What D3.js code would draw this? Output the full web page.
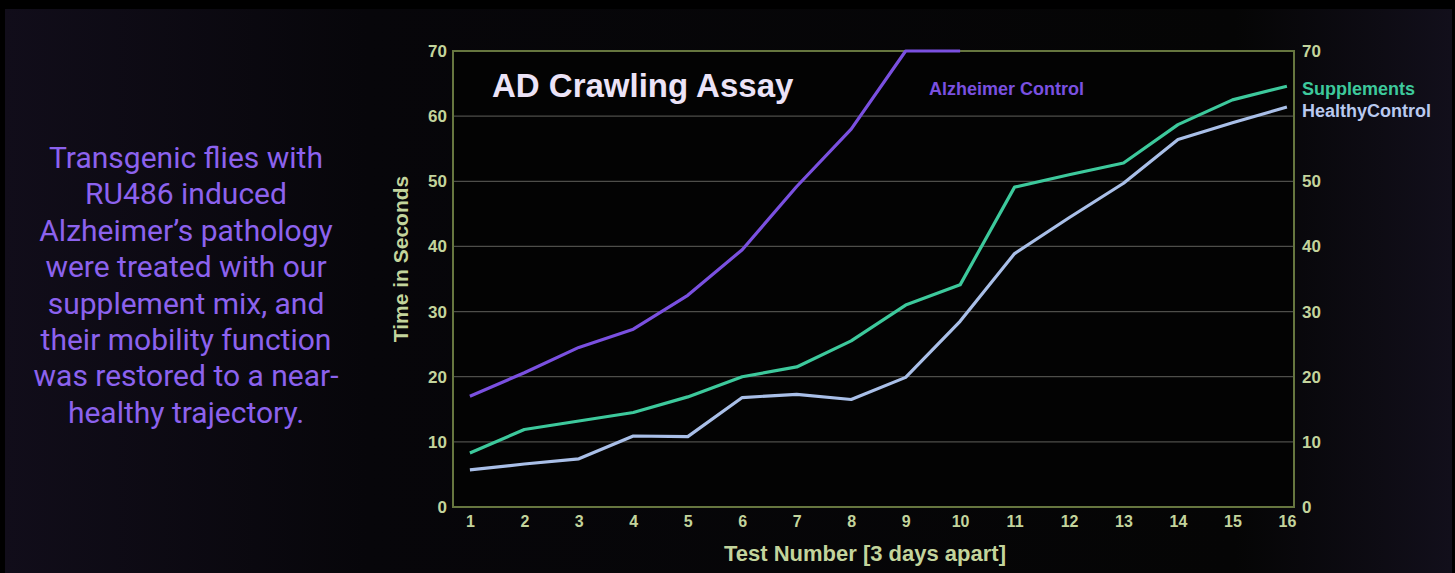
<!DOCTYPE html>
<html>
<head>
<meta charset="utf-8">
<script src="https://cdn.jsdelivr.net/npm/d3@7"></script>
<style>
  html, body { margin: 0; padding: 0; background: #000; }
  svg { display: block; }
</style>
</head>
<body>
<div id="canvas"></div>
<script>
"use strict";

// chart data
const tests = [1, 2, 3, 4, 5, 6, 7, 8, 9, 10, 11, 12, 13, 14, 15, 16];
const alzheimer = [17, 20.6, 24.5, 27.3, 32.5, 39.5, 49.2, 58, 70, 70];
const supplements = [8.3, 11.9, 13.2, 14.5, 16.9, 20, 21.5, 25.5, 31, 34.1, 49.1, 51, 52.8, 58.7, 62.5, 64.6];
const healthy = [5.7, 6.6, 7.4, 10.9, 10.8, 16.8, 17.3, 16.5, 19.9, 28.5, 38.9, 44.4, 49.7, 56.4, 59, 61.4];
const leftTicks = [0, 10, 20, 30, 40, 50, 60, 70];
const rightTicks = [0, 10, 20, 30, 40, 50, 70];
const noteLines = [
  "Transgenic flies with",
  "RU486 induced",
  "Alzheimer\u2019s pathology",
  "were treated with our",
  "supplement mix, and",
  "their mobility function",
  "was restored to a near-",
  "healthy trajectory."
];

const W = 1455, H = 573;
const plot = { left: 453, right: 1294, top: 51, bottom: 507 };
const axisColor = "#c3d49c";
const boldFont = "'Liberation Sans', Arial, sans-serif";

const svg = d3.select("#canvas").append("svg")
  .attr("width", W)
  .attr("height", H);

// slide background
const grad = svg.append("defs").append("linearGradient")
  .attr("id", "bg").attr("x1", 0).attr("x2", 1).attr("y1", 0).attr("y2", 0);
grad.append("stop").attr("offset", 0).attr("stop-color", "#110d1a");
grad.append("stop").attr("offset", 0.25).attr("stop-color", "#07060a");
grad.append("stop").attr("offset", 0.85).attr("stop-color", "#050505");
grad.append("stop").attr("offset", 1).attr("stop-color", "#120f1b");

svg.append("rect").attr("width", W).attr("height", H).attr("fill", "#000");
svg.append("rect")
  .attr("x", 5).attr("y", 9)
  .attr("width", W - 8).attr("height", H - 9)
  .attr("fill", "url(#bg)");

// scales
const x = d3.scaleLinear().domain([0.69, 16.13]).range([plot.left, plot.right]);
const y = d3.scaleLinear().domain([0, 70]).range([plot.bottom, plot.top]);

// plot area
svg.append("rect")
  .attr("x", plot.left).attr("y", plot.top)
  .attr("width", plot.right - plot.left)
  .attr("height", plot.bottom - plot.top)
  .attr("fill", "#030303");

// gridlines
svg.append("g")
  .selectAll("line")
  .data(leftTicks.filter(d => d > 0 && d < 70))
  .join("line")
  .attr("x1", plot.left).attr("x2", plot.right)
  .attr("y1", d => y(d)).attr("y2", d => y(d))
  .attr("stroke", "#4e4e4a")
  .attr("stroke-width", 1.2);

// border
svg.append("rect")
  .attr("x", plot.left).attr("y", plot.top)
  .attr("width", plot.right - plot.left)
  .attr("height", plot.bottom - plot.top)
  .attr("fill", "none")
  .attr("stroke", "#66763f")
  .attr("stroke-width", 2);

// axes
const leftAxis = svg.append("g")
  .attr("transform", "translate(" + plot.left + ",0)")
  .call(d3.axisLeft(y).tickValues(leftTicks).tickSize(0).tickPadding(6));

const rightAxis = svg.append("g")
  .attr("transform", "translate(" + plot.right + ",0)")
  .call(d3.axisRight(y).tickValues(rightTicks).tickSize(0).tickPadding(8));

const bottomAxis = svg.append("g")
  .attr("transform", "translate(0," + plot.bottom + ")")
  .call(d3.axisBottom(x).tickValues(tests).tickFormat(d3.format("d")).tickSize(0).tickPadding(9));

[leftAxis, rightAxis].forEach(g => {
  g.select(".domain").remove();
  g.selectAll("text")
    .attr("fill", axisColor)
    .style("font-family", boldFont)
    .style("font-weight", "bold")
    .style("font-size", "17px");
});
bottomAxis.select(".domain").remove();
bottomAxis.selectAll("text")
  .attr("fill", axisColor)
  .style("font-family", boldFont)
  .style("font-weight", "bold")
  .style("font-size", "16px");

// axis titles
svg.append("text")
  .attr("x", 865)
  .attr("y", 561)
  .attr("text-anchor", "middle")
  .attr("fill", axisColor)
  .style("font-family", boldFont)
  .style("font-weight", "bold")
  .style("font-size", "22px")
  .text("Test Number [3 days apart]");

svg.append("text")
  .attr("transform", "translate(408,259) rotate(-90)")
  .attr("text-anchor", "middle")
  .attr("fill", axisColor)
  .style("font-family", boldFont)
  .style("font-weight", "bold")
  .style("font-size", "21px")
  .text("Time in Seconds");

// series lines
const line = d3.line()
  .x((d, i) => x(tests[i]))
  .y(d => y(d));

const series = [
  { values: alzheimer, color: "#7a50e0" },
  { values: supplements, color: "#3dc99c" },
  { values: healthy, color: "#a9bfe8" }
];

svg.append("g")
  .selectAll("path")
  .data(series)
  .join("path")
  .attr("d", d => line(d.values))
  .attr("fill", "none")
  .attr("stroke", d => d.color)
  .attr("stroke-width", 3.2)
  .attr("stroke-linejoin", "round");

// title and series labels
svg.append("text")
  .attr("x", 492).attr("y", 97)
  .attr("fill", "#ece3f7")
  .style("font-family", boldFont)
  .style("font-weight", "bold")
  .style("font-size", "33px")
  .text("AD Crawling Assay");

const labelStyle = sel => sel
  .style("font-family", boldFont)
  .style("font-weight", "bold")
  .style("font-size", "18px");

svg.append("text").attr("x", 929).attr("y", 95)
  .attr("fill", "#7a50e0").call(labelStyle).text("Alzheimer Control");
svg.append("text").attr("x", 1302).attr("y", 95)
  .attr("fill", "#3dc99c").call(labelStyle).text("Supplements");
svg.append("text").attr("x", 1302).attr("y", 117)
  .attr("fill", "#b9c9ef").call(labelStyle).text("HealthyControl");

// left note
svg.append("g")
  .selectAll("text")
  .data(noteLines)
  .join("text")
  .attr("x", 186)
  .attr("y", (d, i) => 168 + i * 36.4)
  .attr("text-anchor", "middle")
  .attr("fill", "#8c62ee")
  .style("font-family", "Roboto, 'Open Sans', sans-serif")
  .style("font-size", "30px")
  .text(d => d);
</script>
</body>
</html>
